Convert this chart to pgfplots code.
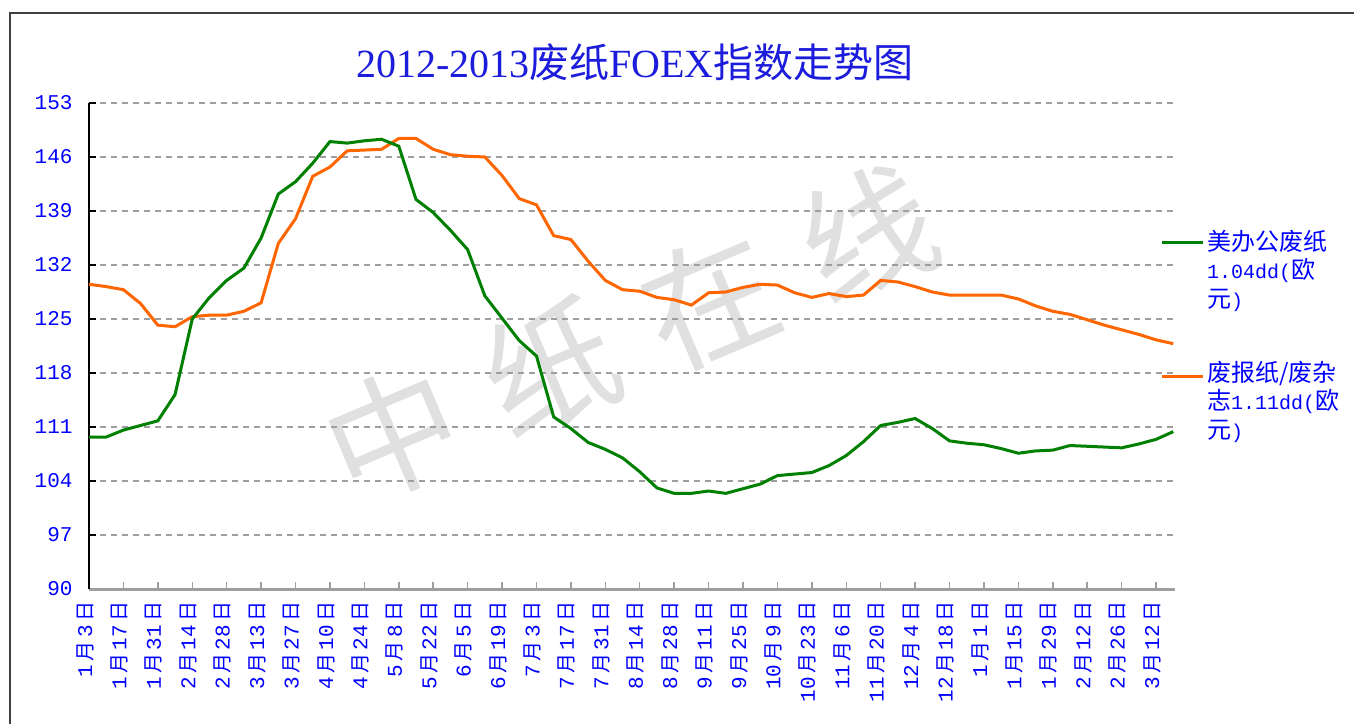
\documentclass[border=0pt]{standalone}
\usepackage{pgfplots}
\pgfplotsset{compat=1.18}
\usepackage{pgfplotstable}
\usepackage{fontspec}
\setmainfont{Liberation Serif}
\setmonofont{Liberation Mono}
\newfontfamily\cjk{Noto Sans CJK SC}
\definecolor{lgreen}{RGB}{0,128,0}
\definecolor{lorange}{RGB}{255,102,0}
\definecolor{tblue}{RGB}{0,0,255}
\definecolor{titleblue}{RGB}{28,28,220}
\newcommand\cj[1]{{\cjk\fontsize{20}{20}\selectfont #1}}
\newcommand\md[2]{#1\hspace{3.5pt}\cj{月}\hspace{3.5pt}#2\hspace{3.5pt}\cj{日}}

\pgfplotstableread{
x y
0 129.5
1 129.2
2 128.8
3 127.0
4 124.2
5 124.0
6 125.3
7 125.5
8 125.5
9 126.0
10 127.1
11 134.8
12 138.0
13 143.5
14 144.7
15 146.8
16 146.9
17 147.0
18 148.4
19 148.4
20 147.0
21 146.3
22 146.1
23 146.0
24 143.6
25 140.6
26 139.8
27 135.8
28 135.3
29 132.5
30 130.0
31 128.8
32 128.6
33 127.8
34 127.5
35 126.8
36 128.4
37 128.5
38 129.1
39 129.5
40 129.4
41 128.4
42 127.8
43 128.3
44 127.9
45 128.1
46 130.0
47 129.8
48 129.2
49 128.5
50 128.1
51 128.1
52 128.1
53 128.1
54 127.6
55 126.7
56 126.0
57 125.6
58 124.9
59 124.2
60 123.6
61 123.0
62 122.3
63 121.8
}\orangedata

\pgfplotstableread{
x y
0 109.7
1 109.7
2 110.6
3 111.2
4 111.8
5 115.2
6 125.0
7 127.8
8 130.0
9 131.6
10 135.5
11 141.2
12 142.8
13 145.2
14 148.0
15 147.8
16 148.1
17 148.3
18 147.4
19 140.5
20 138.8
21 136.5
22 134.0
23 128.0
24 125.1
25 122.2
26 120.2
27 112.3
28 110.8
29 109.0
30 108.1
31 107.0
32 105.2
33 103.1
34 102.4
35 102.4
36 102.7
37 102.4
38 103.0
39 103.6
40 104.7
41 104.9
42 105.1
43 106.0
44 107.3
45 109.1
46 111.2
47 111.6
48 112.1
49 110.8
50 109.2
51 108.9
52 108.7
53 108.2
54 107.6
55 107.9
56 108.0
57 108.6
58 108.5
59 108.4
60 108.3
61 108.8
62 109.4
63 110.4
}\greendata

\begin{document}
\begin{tikzpicture}
\path[use as bounding box] (0pt,0pt) rectangle (1354pt,724pt);
\fill[white] (0pt,0pt) rectangle (1354pt,724pt);
% watermark
\node[rotate=23, text=black!12, font={\cjk\fontsize{132}{132}\selectfont}] at (630pt,390pt)
  {中\hspace{40pt}纸\hspace{40pt}在\hspace{40pt}线};
% frame
\draw[line width=1.5pt, black!75] (10pt,0pt) -- (10pt,711pt) -- (1354pt,711pt);
% title
\node[text=titleblue, font={\fontsize{40}{42}\selectfont}] at (635pt,662pt)
  {2012-2013{\cjk 废纸}FOEX{\cjk 指数走势图}};

\begin{axis}[
  at={(89pt,135pt)}, anchor=south west,
  width=1086pt, height=486pt, scale only axis,
  xmin=0, xmax=63.1, ymin=90, ymax=153,
  ytick={90,97,104,111,118,125,132,139,146,153},
  xtick={0,2,...,62},
  xticklabels={\md{1}{3},\md{1}{17},\md{1}{31},\md{2}{14},\md{2}{28},\md{3}{13},\md{3}{27},\md{4}{10},\md{4}{24},\md{5}{8},\md{5}{22},\md{6}{5},\md{6}{19},\md{7}{3},\md{7}{17},\md{7}{31},\md{8}{14},\md{8}{28},\md{9}{11},\md{9}{25},\md{10}{9},\md{10}{23},\md{11}{6},\md{11}{20},\md{12}{4},\md{12}{18},\md{1}{1},\md{1}{15},\md{1}{29},\md{2}{12},\md{2}{26},\md{3}{12}},
  axis x line*=bottom, axis y line*=left,
  x axis line style={line width=3pt, black!38},
  y axis line style={line width=1.5pt, black},
  tick align=inside,
  major tick length=7pt,
  x tick style={line width=1.5pt, black!38},
  y tick style={line width=1.2pt, black},
  ymajorgrids,
  grid style={dash pattern=on 6pt off 5pt, line width=1.3pt, black!38},
  xticklabel style={xshift=-4pt, rotate=90, anchor=east, text=tblue, font={\ttfamily\fontsize{21}{21}\selectfont}},
  xticklabel shift=9pt,
  yticklabel style={text=tblue, font={\ttfamily\fontsize{21}{21}\selectfont}, xshift=-13pt},
  /pgf/number format/assume math mode=true,
  clip=false,
]
\addplot[lorange, line width=3pt, no marks, sharp plot] table[x=x,y=y] {\orangedata};
\addplot[lgreen, line width=3pt, no marks, sharp plot] table[x=x,y=y] {\greendata};
\end{axis}

% legend
\draw[lgreen, line width=3pt] (1162pt,481pt) -- (1203pt,481pt);
\node[anchor=north west, inner sep=0pt, align=left, text=tblue, font={\fontsize{24}{28.5}\selectfont}] at (1207pt,494pt)
  {{\cjk 美办公废纸}\\{\ttfamily\fontsize{20}{28.5}\selectfont 1.04dd(}{\cjk 欧}\\{\cjk 元}{\ttfamily\fontsize{20}{28.5}\selectfont )}};
\draw[lorange, line width=3pt] (1162pt,348pt) -- (1203pt,348pt);
\node[anchor=north west, inner sep=0pt, align=left, text=tblue, font={\fontsize{24}{28.5}\selectfont}] at (1207pt,363pt)
  {{\cjk 废报纸/废杂}\\{\cjk 志}{\ttfamily\fontsize{20}{28.5}\selectfont 1.11dd(}{\cjk 欧}\\{\cjk 元}{\ttfamily\fontsize{20}{28.5}\selectfont )}};
\end{tikzpicture}
\end{document}
